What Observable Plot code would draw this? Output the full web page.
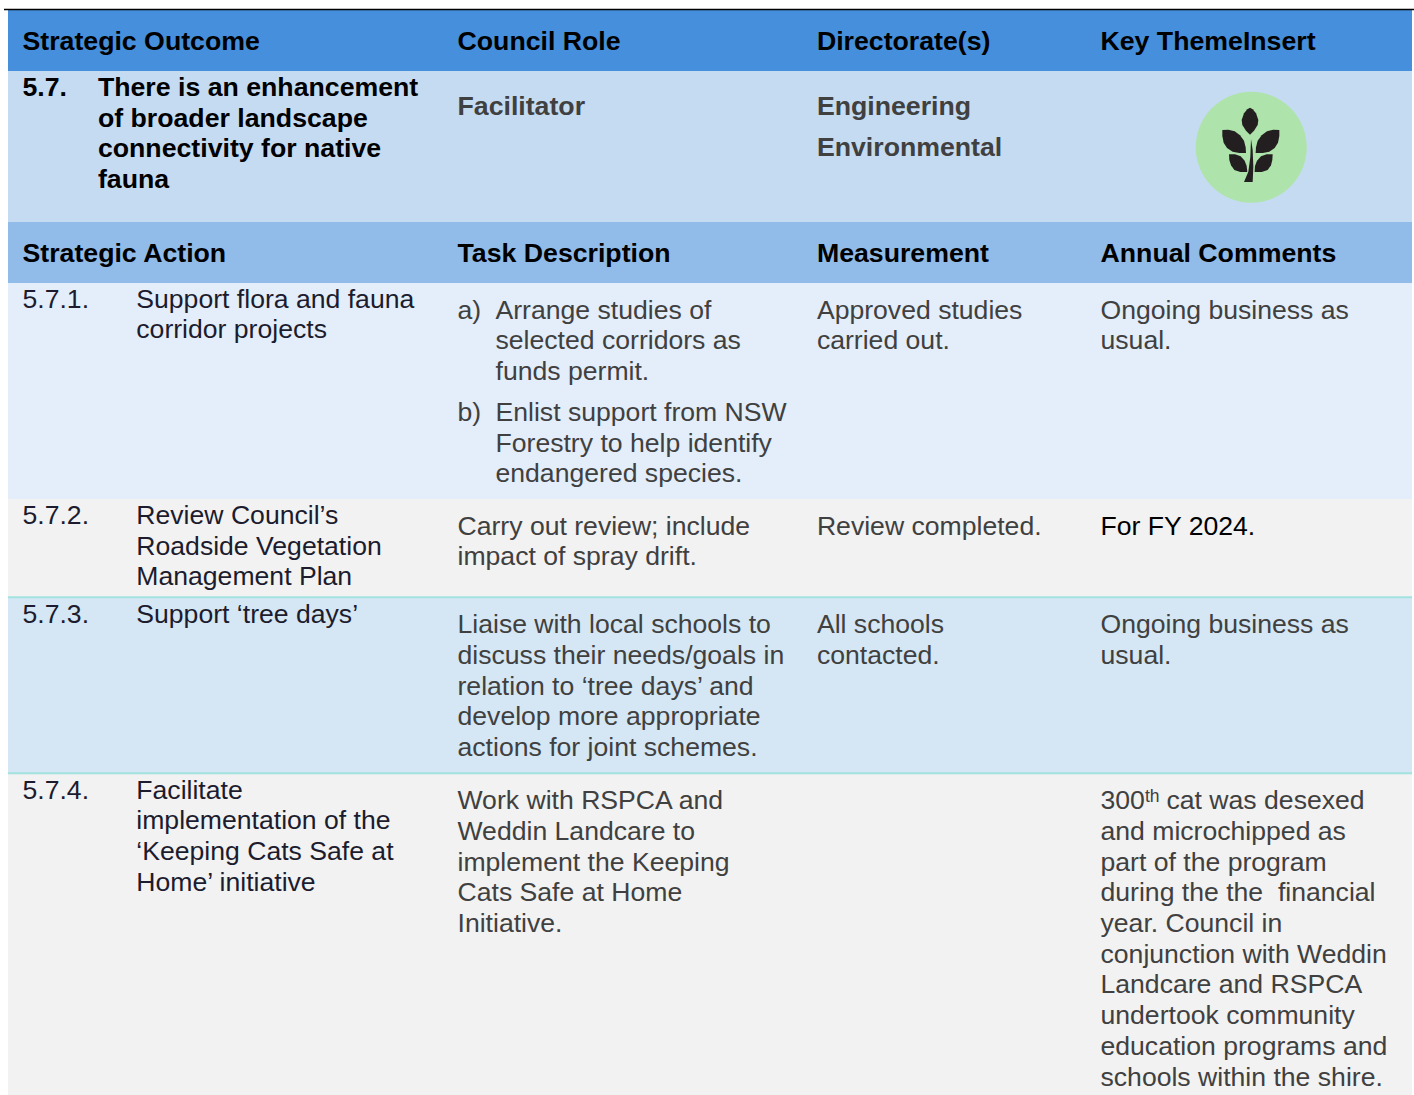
<!DOCTYPE html>
<html><head><meta charset="utf-8">
<script src="https://cdn.jsdelivr.net/npm/d3@7"></script>
<script src="https://cdn.jsdelivr.net/npm/@observablehq/plot@0.6"></script>
<style>html,body{margin:0;padding:0;background:#fff;overflow:hidden}svg{display:block}</style>
</head><body><div id="chart"></div>
<script>
// Content
const headerLabels = ["Strategic Outcome","Council Role","Directorate(s)","Key ThemeInsert"];
const actionLabels = ["Strategic Action","Task Description","Measurement","Annual Comments"];
const outcomeLines = ["There is an enhancement","of broader landscape","connectivity for native","fauna"];
const directorates = ["Engineering","Environmental"];
const actionIds = ["5.7.1.","5.7.2.","5.7.3.","5.7.4."];
const actionLines = [
  ["Support flora and fauna","corridor projects"],
  ["Review Council’s","Roadside Vegetation","Management Plan"],
  ["Support ‘tree days’"],
  ["Facilitate","implementation of the","‘Keeping Cats Safe at","Home’ initiative"]];
const taskA = ["Arrange studies of","selected corridors as","funds permit."];
const taskB = ["Enlist support from NSW","Forestry to help identify","endangered species."];
const task2 = ["Carry out review; include","impact of spray drift."];
const task3 = ["Liaise with local schools to","discuss their needs/goals in","relation to ‘tree days’ and","develop more appropriate","actions for joint schemes."];
const task4 = ["Work with RSPCA and","Weddin Landcare to","implement the Keeping","Cats Safe at Home","Initiative."];
const measure1 = ["Approved studies","carried out."];
const measure3 = ["All schools","contacted."];
const comment1 = ["Ongoing business as","usual."];
const comment4 = ["and microchipped as","part of the program","during the the  financial","year. Council in","conjunction with Weddin","Landcare and RSPCA","undertook community","education programs and","schools within the shire."];

// Layout (page grid)
const colX = [22, 457, 816.4, 1100];
const labelIndent = 97.4, actionIndent = 135.8, taskIndent = 495;
const lh = 30.7;
const bands = [
  {top:10,  bottom:71,  fill:"#458fdc"},
  {top:71,  bottom:222, fill:"#c5dbf2"},
  {top:222, bottom:283, fill:"#91bbe8"},
  {top:283, bottom:499, fill:"#e3eefa"},
  {top:499, bottom:597, fill:"#f2f2f2"},
  {top:597, bottom:773, fill:"#d5e7f4"},
  {top:773, bottom:1095,fill:"#f2f2f2"}];
const dividers = [596.7, 772.7];
const BOLD = 26.7, BODY = 26.6;

const T = [];
function add(x, y0, lines, o) { lines.forEach((t,i)=>T.push({x, y:y0+i*(o.step||lh), t, ...o})); }
const dark="#1c1c2e", grey="#404040", black="#000";
headerLabels.forEach((t,i)=>add(colX[i],49.4,[t],{w:"bold",c:black}));
actionLabels.forEach((t,i)=>add(colX[i],261.4,[t],{w:"bold",c:black}));
add(colX[0],95.5,["5.7."],{w:"bold",c:black});
add(labelIndent,95.5,outcomeLines,{w:"bold",c:black});
add(colX[1],114.4,["Facilitator"],{w:"bold",c:grey});
add(colX[2],114.4,directorates,{w:"bold",c:grey,step:41});
const idY=[307.2,523.5,622.5,798.2];
actionIds.forEach((t,i)=>{ add(colX[0],idY[i],[t],{c:dark}); add(actionIndent,idY[i],actionLines[i],{c:dark}); });
add(colX[1],318.2,["a)"],{c:grey}); add(taskIndent,318.2,taskA,{c:grey});
add(colX[1],420.5,["b)"],{c:grey}); add(taskIndent,420.5,taskB,{c:grey});
add(colX[1],534.2,task2,{c:grey});
add(colX[1],632.75,task3,{c:grey});
add(colX[1],808.75,task4,{c:grey});
add(colX[2],318.2,measure1,{c:grey});
add(colX[2],534.2,["Review completed."],{c:grey});
add(colX[2],632.5,measure3,{c:grey});
add(colX[3],318.2,comment1,{c:grey});
add(colX[3],534.2,["For FY 2024."],{c:black});
add(colX[3],632.5,comment1,{c:grey});
add(colX[3],808.75,["300"],{c:grey});
add(colX[3]+44.5,801,["th"],{c:grey,s:17.5});
add(colX[3]+66,808.75,["cat was desexed"],{c:grey});
add(colX[3],839.45,comment4,{c:grey});

// Leaf icon outlines
const leaves = {
 top:[[300,113],[308,118],[318,130],[325,150],[323,165],[312,182],[300,194],[288,182],[277,165],[275,150],[282,130],[292,118]],
 ul:[[217,180],[235,179],[254,184],[270,196],[282,212],[287,232],[288,249],[268,249],[248,245],[231,234],[221,218],[217,198]],
 ur:[[388,180],[370,179],[351,184],[335,196],[323,212],[318,232],[317,249],[338,249],[358,245],[374,234],[384,218],[388,198]],
 ll:[[237,253],[255,253],[272,259],[284,272],[290,288],[292,306],[271,306],[253,300],[243,286],[238,270]],
 lr:[[368,253],[350,253],[333,259],[321,272],[315,288],[314,306],[335,306],[353,300],[363,286],[367,270]],
 stem:[[303,207],[308,240],[310,290],[308,336],[282,336],[295,305],[301,260]]
};
const leafPts = Object.entries(leaves).flatMap(([k,p])=>p.map(([a,b])=>({k,x:1149.5+a/3,y:69.5+b/3})));

const textMark = (w) => Plot.text(T.filter(d=>(d.w==="bold")===(w==="bold")&&!d.s),{
  x:"x",y:"y",text:"t",fill:"c",textAnchor:"start",lineAnchor:"bottom",
  fontSize:w==="bold"?BOLD:BODY,fontWeight:w,fontFamily:"Liberation Sans"});

const plot = Plot.plot({
  width:1414,height:1095,margin:0,
  x:{type:"linear",domain:[0,1414],range:[0,1414],axis:null},
  y:{type:"linear",domain:[0,1095],range:[0,1095],axis:null},
  color:{type:"identity"},
  marks:[
    Plot.rect(bands,{x1:8,x2:1412,y1:"top",y2:"bottom",fill:"fill"}),
    Plot.ruleY([9],{x1:4,x2:1414,stroke:"#000",strokeWidth:1.5}),
    Plot.ruleY(dividers,{x1:8,x2:1412,stroke:"#a3e3df",strokeWidth:2}),
    Plot.dot([{x:1250.7,y:146.7}],{x:"x",y:"y",r:55.5,fill:"#aee4ab",stroke:"none"}),
    Plot.line(leafPts,{x:"x",y:"y",z:"k",fill:"#231f20",stroke:"none",curve:"linear-closed"}),
    textMark("bold"),
    textMark("normal"),
    Plot.text(T.filter(d=>d.s),{x:"x",y:"y",text:"t",fill:"c",textAnchor:"start",lineAnchor:"bottom",fontSize:17.5,fontFamily:"Liberation Sans"})
  ]
});
document.getElementById("chart").append(plot);
</script></body></html>
